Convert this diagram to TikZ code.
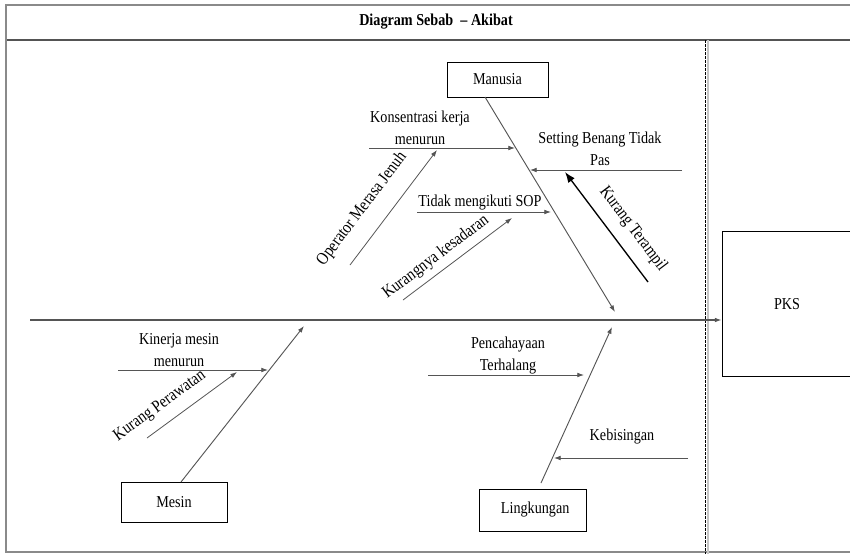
\documentclass[tikz,border=0pt]{standalone}
\usepackage{fontspec}
\setmainfont[FakeStretch=0.85]{Liberation Serif}
\usetikzlibrary{arrows.meta}
\definecolor{bonegray}{HTML}{555555}
\definecolor{framegray}{HTML}{8A8A8A}
\newcommand{\lblfont}{\fontsize{12.5}{16.5}\selectfont}
\newcommand{\tiltfont}{\fontsize{13}{16.5}\selectfont}

\begin{document}
\begin{tikzpicture}[x=0.75pt,y=-0.75pt,>={Latex[length=5pt,width=3.5pt]},
    catbox/.style={draw=black,line width=0.6pt,font=\lblfont,inner sep=0pt},
    bone/.style={bonegray,line width=0.7pt,->},
    cause/.style={bonegray,line width=0.6pt,->},
    lbl/.style={font=\lblfont,inner sep=0pt,align=center},
    tilt/.style={font=\tiltfont,inner sep=0pt}]
      \useasboundingbox (0,0) rectangle (850,554);

      % frame and title
      \draw[framegray,line width=1.2pt] (5,5) -- (850,5);
      \draw[framegray!60!black,line width=1.2pt] (5,40) -- (850,40);
      \draw[framegray,line width=0.8pt] (6,5) -- (6,552) -- (850,552);
      \draw[black,line width=0.6pt,dash pattern=on 2pt off 1pt] (705,40) -- (705,554);
      \draw[framegray!50,line width=0.8pt] (708,40) -- (708,554);
      \node[font=\lblfont\bfseries,inner sep=0pt] (title) at (436,22) {Diagram Sebab \ -- Akibat};

      % category boxes and effect
      \node[catbox,minimum width=75.75pt,minimum height=26.25pt] (manusia) at (497.5,79.5) {Manusia};
      \node[catbox,minimum width=79.5pt,minimum height=30pt] (mesin) at (174,502) {Mesin};
      \node[catbox,minimum width=80.25pt,minimum height=31.5pt] (lingkungan) at (532.5,510) {\hspace{4pt}Lingkungan};
      \node[catbox,minimum width=97.5pt,minimum height=108.75pt,text depth=0pt] (pks) at (787,303.5) {PKS};

      % spine
      \coordinate (tail) at (30,320);
      \draw[bonegray,line width=1.4pt,->] (tail) -- (tail -| pks.west);

      % main bones
      \coordinate (man0) at (485,97);
      \coordinate (man1) at (615,312);
      \coordinate (mes0) at (181,482);
      \coordinate (mes1) at (304,326);
      \coordinate (lin0) at (541,483);
      \coordinate (lin1) at (612,327);
      \draw[bone] (man0) -- (man1);
      \draw[bone] (mes0) -- (mes1);
      \draw[bone] (lin0) -- (lin1);

      % causes: manusia
      \coordinate (kons0) at (369,148);
      \coordinate (kons1) at (515,148);
      \coordinate (set0) at (682,170);
      \coordinate (set1) at (530,170);
      \coordinate (sop0) at (417,212);
      \coordinate (sop1) at (551,212);
      \coordinate (jen0) at (350,265);
      \coordinate (jen1) at (437,150);
      \coordinate (sad0) at (403,300);
      \coordinate (sad1) at (512,218);
      \coordinate (ter0) at (648,282);
      \coordinate (ter1) at (565,172);
      \draw[cause] (kons0) -- (kons1);
      \draw[cause] (set0) -- (set1);
      \draw[cause] (sop0) -- (sop1);
      \draw[cause] (jen0) -- (jen1);
      \draw[cause] (sad0) -- (sad1);
      \draw[black,line width=1pt,-{Latex[length=8pt,width=6pt]}] (ter0) -- (ter1);

      % causes: mesin
      \coordinate (kin0) at (118,370);
      \coordinate (kin1) at (268,370);
      \coordinate (raw0) at (147,438);
      \coordinate (raw1) at (237,372);
      \draw[cause] (kin0) -- (kin1);
      \draw[cause] (raw0) -- (raw1);

      % causes: lingkungan
      \coordinate (cah0) at (428,375);
      \coordinate (cah1) at (584,375);
      \coordinate (bis0) at (688,458);
      \coordinate (bis1) at (554,458);
      \draw[cause] (cah0) -- (cah1);
      \draw[cause] (bis0) -- (bis1);

      % labels
      \node[lbl] (konsL) at (420,128) {Konsentrasi kerja\\menurun};
      \node[lbl] (setL) at (600,149) {Setting Benang Tidak\\Pas};
      \node[lbl] (sopL) at (480,203) {Tidak mengikuti SOP};
      \node[tilt,rotate=53] (jenL) at (362,209) {Operator Merasa Jenuh};
      \node[tilt,rotate=37] (sadL) at (436,257) {Kurangnya kesadaran};
      \node[tilt,rotate=-53] (terL) at (633,229) {Kurang Terampil};
      \node[lbl] (kinL) at (179,350) {Kinerja mesin\\menurun};
      \node[tilt,rotate=36] (rawL) at (160,406) {Kurang Perawatan};
      \node[lbl] (cahL) at (508,356) {Pencahayaan\\Terhalang};
      \node[lbl] (bisL) at (622,437) {Kebisingan};
    \end{tikzpicture}
\end{document}
